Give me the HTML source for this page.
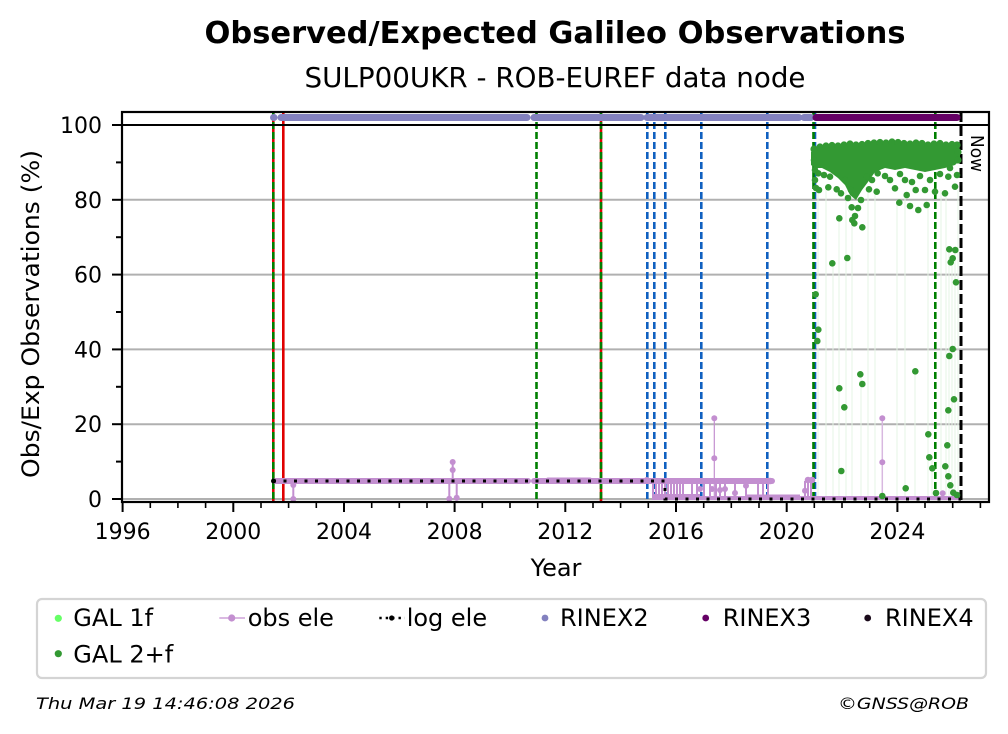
<!DOCTYPE html>
<html><head><meta charset="utf-8"><style>
html,body{margin:0;padding:0;background:#fff;}
svg{display:block;font-family:"DejaVu Sans","Liberation Sans",sans-serif;}
</style></head><body>
<svg width="1008" height="734" viewBox="0 0 1008 734" xmlns="http://www.w3.org/2000/svg">
<rect x="0" y="0" width="1008" height="734" fill="#fff"/>
<!-- titles -->
<text x="555" y="43" font-size="30.5" font-weight="bold" text-anchor="middle" textLength="701" lengthAdjust="spacingAndGlyphs">Observed/Expected Galileo Observations</text>
<text x="555" y="87" font-size="27.5" text-anchor="middle" textLength="501" lengthAdjust="spacingAndGlyphs">SULP00UKR - ROB-EUREF data node</text>

<!-- grid -->
<g stroke="#b0b0b0" stroke-width="2">
<line x1="122" y1="499" x2="989" y2="499"/>
<line x1="122" y1="424.2" x2="989" y2="424.2"/>
<line x1="122" y1="349.4" x2="989" y2="349.4"/>
<line x1="122" y1="274.6" x2="989" y2="274.6"/>
<line x1="122" y1="199.8" x2="989" y2="199.8"/>
</g>

<!-- faint green lines -->
<g stroke="#e6f4e6" stroke-width="1">
<line x1="818" y1="190" x2="818" y2="499"/><line x1="826" y1="190" x2="826" y2="499"/>
<line x1="833" y1="265" x2="833" y2="499"/><line x1="839" y1="218" x2="839" y2="499"/>
<line x1="846" y1="190" x2="846" y2="499"/><line x1="852" y1="220" x2="852" y2="499"/>
<line x1="861" y1="374" x2="861" y2="499"/><line x1="868" y1="190" x2="868" y2="499"/>
<line x1="875" y1="190" x2="875" y2="499"/><line x1="897" y1="200" x2="897" y2="499"/>
<line x1="905" y1="195" x2="905" y2="499"/><line x1="915" y1="371" x2="915" y2="499"/>
<line x1="928" y1="205" x2="928" y2="499"/><line x1="932" y1="460" x2="932" y2="499"/>
<line x1="941" y1="190" x2="941" y2="499"/><line x1="946" y1="190" x2="946" y2="499"/>
<line x1="949" y1="250" x2="949" y2="499"/><line x1="952" y1="258" x2="952" y2="499"/>
<line x1="955" y1="250" x2="955" y2="499"/><line x1="958" y1="190" x2="958" y2="499"/>
</g>

<!-- vertical event lines -->
<g stroke-width="2.6" fill="none">
<line x1="273.3" y1="112" x2="273.3" y2="502" stroke="#e00000"/>
<line x1="273.3" y1="112" x2="273.3" y2="502" stroke="#007f00" stroke-dasharray="7,3"/>
<line x1="283.3" y1="112" x2="283.3" y2="502" stroke="#e00000"/>
<line x1="536.5" y1="112" x2="536.5" y2="502" stroke="#007f00" stroke-dasharray="7,3"/>
<line x1="601" y1="112" x2="601" y2="502" stroke="#e00000"/>
<line x1="601" y1="112" x2="601" y2="502" stroke="#007f00" stroke-dasharray="7,3"/>
<line x1="647.3" y1="112" x2="647.3" y2="502" stroke="#1060c0" stroke-dasharray="7,3"/>
<line x1="654.3" y1="112" x2="654.3" y2="502" stroke="#1060c0" stroke-dasharray="7,3"/>
<line x1="665.3" y1="112" x2="665.3" y2="502" stroke="#1060c0" stroke-dasharray="7,3"/>
<line x1="701.3" y1="112" x2="701.3" y2="502" stroke="#1060c0" stroke-dasharray="7,3"/>
<line x1="767.3" y1="112" x2="767.3" y2="502" stroke="#1060c0" stroke-dasharray="7,3"/>
<line x1="815" y1="112" x2="815" y2="502" stroke="#1060c0" stroke-dasharray="7,3"/>
<line x1="813.5" y1="112" x2="813.5" y2="502" stroke="#007f00" stroke-dasharray="7,3"/>
<line x1="935.3" y1="112" x2="935.3" y2="502" stroke="#007f00" stroke-dasharray="7,3"/>
<line x1="961" y1="112" x2="961" y2="502" stroke="#000" stroke-width="3" stroke-dasharray="10,4"/>
</g>

<!-- obs ele -->
<g stroke="#c38fd0" fill="#c38fd0">
<line x1="275" y1="481" x2="528" y2="481" stroke-width="6" stroke-linecap="round"/>
<line x1="534" y1="481" x2="772" y2="481" stroke-width="6" stroke-linecap="round"/>
<line x1="548" y1="479.5" x2="590" y2="479.5" stroke-width="4" stroke-linecap="round"/>
<line x1="652" y1="498" x2="960" y2="498" stroke-width="4"/>
<line x1="652" y1="497" x2="700" y2="497" stroke-width="6"/>
<line x1="745" y1="497" x2="800" y2="497" stroke-width="5"/>
<g stroke-width="2">
<line x1="293.3" y1="481" x2="293.3" y2="499"/>
<line x1="452.7" y1="462" x2="452.7" y2="481"/>
<line x1="449.3" y1="481" x2="449.3" y2="499"/>
<line x1="456.7" y1="481" x2="456.7" y2="498"/>
<line x1="653" y1="481" x2="653" y2="497"/><line x1="656" y1="481" x2="656" y2="497"/>
<line x1="659" y1="481" x2="659" y2="497"/><line x1="662" y1="481" x2="662" y2="497"/>
<line x1="665" y1="481" x2="665" y2="497"/><line x1="668" y1="481" x2="668" y2="497"/>
<line x1="671" y1="481" x2="671" y2="497"/><line x1="674" y1="481" x2="674" y2="497"/>
<line x1="677" y1="481" x2="677" y2="497"/><line x1="680" y1="481" x2="680" y2="497"/>
<line x1="683" y1="481" x2="683" y2="497"/><line x1="692" y1="481" x2="692" y2="497"/>
<line x1="697" y1="481" x2="697" y2="497"/><line x1="704" y1="481" x2="704" y2="497"/>
<line x1="710" y1="481" x2="710" y2="497"/><line x1="716" y1="481" x2="716" y2="497"/>
<line x1="720" y1="481" x2="720" y2="497"/><line x1="725" y1="481" x2="725" y2="497"/>
<line x1="735" y1="481" x2="735" y2="497"/><line x1="746" y1="481" x2="746" y2="497"/>
<line x1="758" y1="481" x2="758" y2="497"/><line x1="763" y1="481" x2="763" y2="497"/>
<line x1="768" y1="481" x2="768" y2="497"/>
<line x1="805" y1="481" x2="805" y2="497"/><line x1="808" y1="479" x2="808" y2="497"/>
<line x1="811" y1="479" x2="811" y2="497"/>
</g>
<line x1="714.3" y1="418.3" x2="714.3" y2="497" stroke-width="1.2"/>
<line x1="882.3" y1="418.3" x2="882.3" y2="498" stroke="#d8b8e0" stroke-width="1.5"/>
<g stroke="none">
<circle cx="293.3" cy="485" r="3"/><circle cx="293.3" cy="499" r="3"/>
<circle cx="452.7" cy="462" r="3"/><circle cx="452.7" cy="470" r="3"/>
<circle cx="449.3" cy="498.7" r="3"/><circle cx="456.7" cy="497.7" r="3"/>
<circle cx="646.7" cy="480" r="3"/>
<circle cx="714.3" cy="418.3" r="3"/><circle cx="714.3" cy="458.3" r="3"/>
<circle cx="735" cy="493" r="3"/><circle cx="746" cy="485.7" r="3"/><circle cx="725" cy="489" r="3"/>
<circle cx="700" cy="489" r="3"/><circle cx="712" cy="489" r="3"/><circle cx="720" cy="490" r="3"/>
<circle cx="808" cy="480" r="3.3"/><circle cx="812" cy="480" r="3.3"/><circle cx="805" cy="490.7" r="3"/>
<circle cx="882.3" cy="418.3" r="3"/><circle cx="882.3" cy="462.3" r="3"/>
<circle cx="942.7" cy="493.3" r="3"/>
<circle cx="770" cy="481" r="3.3"/>
</g>
</g>

<!-- log ele -->
<g stroke="#000" stroke-width="3" fill="none" stroke-dasharray="3,7.5">
<polyline points="273,481 665,481 665,499 961,499"/>
</g>
<circle cx="273.5" cy="481" r="2.5" fill="#000"/>

<!-- green GAL 2+f -->
<g fill="#339933">
<polygon points="811,152 814,147 822,146 830,145 840,146 850,144 860,145 870,143 880,142 890,143 900,142 910,144 920,143 930,145 940,143 950,145 958,144 960,150 960,160 955,165 945,168 935,170 925,172 915,170 905,168 895,170 885,168 875,172 868,182 862,190 856,200 850,195 845,185 838,178 830,172 822,168 815,168 811,165"/>
<circle cx="814" cy="149" r="3.6"/><circle cx="820" cy="147" r="3.6"/><circle cx="826" cy="146" r="3.6"/>
<circle cx="832" cy="145.5" r="3.6"/><circle cx="838" cy="146" r="3.6"/><circle cx="844" cy="145" r="3.6"/>
<circle cx="850" cy="144" r="3.6"/><circle cx="856" cy="145" r="3.6"/><circle cx="862" cy="144.5" r="3.6"/>
<circle cx="868" cy="143.5" r="3.6"/><circle cx="874" cy="143" r="3.6"/><circle cx="880" cy="142.5" r="3.6"/>
<circle cx="886" cy="143" r="3.6"/><circle cx="892" cy="142" r="3.6"/><circle cx="898" cy="142.5" r="3.6"/>
<circle cx="904" cy="143.5" r="3.6"/><circle cx="910" cy="144" r="3.6"/><circle cx="916" cy="143" r="3.6"/>
<circle cx="922" cy="143.5" r="3.6"/><circle cx="928" cy="145" r="3.6"/><circle cx="934" cy="144" r="3.6"/>
<circle cx="940" cy="143.5" r="3.6"/><circle cx="946" cy="145" r="3.6"/><circle cx="952" cy="144.5" r="3.6"/>
<circle cx="957" cy="145" r="3.6"/><circle cx="958" cy="152" r="3.6"/><circle cx="958" cy="160" r="3.6"/>
<circle cx="818.3" cy="173.3" r="3.3"/><circle cx="819" cy="190" r="3.3"/>
<circle cx="828.3" cy="187.3" r="3.3"/><circle cx="830" cy="176.7" r="3.3"/>
<circle cx="836.7" cy="189.3" r="3.3"/><circle cx="839.3" cy="218.3" r="3.3"/>
<circle cx="841" cy="193.3" r="3.3"/><circle cx="851" cy="190" r="3.3"/>
<circle cx="851.7" cy="207.3" r="3.3"/><circle cx="852.3" cy="220" r="3.3"/>
<circle cx="855" cy="216" r="3.3"/><circle cx="854.3" cy="223.3" r="3.3"/>
<circle cx="862.3" cy="227.3" r="3.3"/><circle cx="861" cy="200" r="3.3"/>
<circle cx="869" cy="189.3" r="3.3"/><circle cx="866.7" cy="176.7" r="3.3"/>
<circle cx="876.7" cy="191.7" r="3.3"/><circle cx="877.7" cy="173.3" r="3.3"/>
<circle cx="895" cy="188.3" r="3.3"/><circle cx="899.3" cy="202.7" r="3.3"/>
<circle cx="906.7" cy="195" r="3.3"/><circle cx="910" cy="206" r="3.3"/>
<circle cx="918.3" cy="210" r="3.3"/><circle cx="926.7" cy="205" r="3.3"/>
<circle cx="915.7" cy="190" r="3.3"/><circle cx="925" cy="190" r="3.3"/>
<circle cx="935" cy="191.7" r="3.3"/><circle cx="945" cy="193.3" r="3.3"/>
<circle cx="955" cy="186.7" r="3.3"/><circle cx="948.3" cy="176.7" r="3.3"/>
<circle cx="905" cy="180" r="3.3"/><circle cx="890" cy="180" r="3.3"/>
<circle cx="845" cy="180" r="3.3"/><circle cx="814" cy="160" r="3.3"/>
<circle cx="815" cy="170" r="3.3"/><circle cx="815" cy="180" r="3.3"/>
<circle cx="816" cy="188" r="3.3"/><circle cx="885" cy="176" r="3.3"/>
<circle cx="930" cy="180" r="3.3"/><circle cx="957" cy="175" r="3.3"/>
<circle cx="900" cy="174" r="3.3"/><circle cx="920" cy="176" r="3.3"/><circle cx="940" cy="174" r="3.3"/>
<circle cx="824" cy="175" r="3.3"/><circle cx="848" cy="198" r="3.3"/><circle cx="858" cy="208" r="3.3"/>
<circle cx="872" cy="180" r="3.3"/><circle cx="912" cy="182" r="3.3"/><circle cx="950" cy="168" r="3.3"/>
<circle cx="832.3" cy="263.3" r="3.3"/><circle cx="847.3" cy="258" r="3.3"/>
<circle cx="815.7" cy="294.3" r="3.3"/><circle cx="818.3" cy="329.7" r="3.3"/>
<circle cx="817.3" cy="341" r="3.3"/><circle cx="860.3" cy="374.3" r="3.3"/>
<circle cx="862.3" cy="384" r="3.3"/><circle cx="839.3" cy="388.3" r="3.3"/>
<circle cx="844.3" cy="407.3" r="3.3"/><circle cx="915.3" cy="371.3" r="3.3"/>
<circle cx="841.3" cy="471" r="3.3"/><circle cx="905.7" cy="488.3" r="3.3"/>
<circle cx="928.3" cy="434.3" r="3.3"/><circle cx="929.3" cy="457.3" r="3.3"/>
<circle cx="932.3" cy="468.3" r="3.3"/><circle cx="949.3" cy="249.3" r="3.3"/>
<circle cx="955.3" cy="250" r="3.3"/><circle cx="952.7" cy="258.3" r="3.3"/>
<circle cx="950.7" cy="262.3" r="3.3"/><circle cx="956" cy="282.3" r="3.3"/>
<circle cx="952.7" cy="349" r="3.3"/><circle cx="949.3" cy="356" r="3.3"/>
<circle cx="954" cy="399.3" r="3.3"/><circle cx="948.3" cy="410.3" r="3.3"/>
<circle cx="947.3" cy="445.3" r="3.3"/><circle cx="945.3" cy="466.3" r="3.3"/>
<circle cx="948.3" cy="476.3" r="3.3"/><circle cx="950.3" cy="485.3" r="3.3"/>
<circle cx="953.3" cy="492.7" r="3.3"/><circle cx="936" cy="493" r="3.3"/>
<circle cx="957" cy="495" r="3.3"/><circle cx="882.3" cy="496" r="3.3"/>
</g>

<!-- RINEX bars -->
<g stroke-width="7" stroke-linecap="round">
<line x1="273.5" y1="117.5" x2="274" y2="117.5" stroke="#8381bf"/>
<line x1="281" y1="117.5" x2="527" y2="117.5" stroke="#8381bf"/>
<line x1="534" y1="117.5" x2="641" y2="117.5" stroke="#8381bf"/>
<line x1="647" y1="117.5" x2="799" y2="117.5" stroke="#8381bf"/>
<line x1="804" y1="117.5" x2="811" y2="117.5" stroke="#8381bf"/>
<line x1="816" y1="117.5" x2="957" y2="117.5" stroke="#650065"/>
</g>

<!-- 100 line -->
<line x1="122" y1="125" x2="989" y2="125" stroke="#000" stroke-width="2"/>

<!-- Now label -->
<text transform="translate(971,135) rotate(90)" font-size="18" textLength="37" lengthAdjust="spacingAndGlyphs">Now</text>

<!-- spines -->
<rect x="122" y="112" width="867" height="390" fill="none" stroke="#000" stroke-width="2.2"/>

<!-- y ticks -->
<g stroke="#000" stroke-width="2">
<line x1="112" y1="499" x2="122" y2="499"/><line x1="112" y1="424.2" x2="122" y2="424.2"/>
<line x1="112" y1="349.4" x2="122" y2="349.4"/><line x1="112" y1="274.6" x2="122" y2="274.6"/>
<line x1="112" y1="199.8" x2="122" y2="199.8"/><line x1="112" y1="125" x2="122" y2="125"/>
<line x1="116" y1="461.6" x2="122" y2="461.6"/><line x1="116" y1="386.8" x2="122" y2="386.8"/>
<line x1="116" y1="312" x2="122" y2="312"/><line x1="116" y1="237.2" x2="122" y2="237.2"/>
<line x1="116" y1="162.4" x2="122" y2="162.4"/>
</g>
<g font-size="22" text-anchor="end">
<text x="102" y="507">0</text>
<text x="102" y="432.2">20</text>
<text x="102" y="357.4">40</text>
<text x="102" y="282.6">60</text>
<text x="102" y="207.8">80</text>
<text x="102" y="133">100</text>
</g>

<!-- x ticks -->
<g stroke="#000" stroke-width="2">
<line x1="122.6" y1="502" x2="122.6" y2="512"/><line x1="233.3" y1="502" x2="233.3" y2="512"/>
<line x1="344" y1="502" x2="344" y2="512"/><line x1="454.6" y1="502" x2="454.6" y2="512"/>
<line x1="565.3" y1="502" x2="565.3" y2="512"/><line x1="676" y1="502" x2="676" y2="512"/>
<line x1="786.7" y1="502" x2="786.7" y2="512"/><line x1="897.4" y1="502" x2="897.4" y2="512"/>
</g>
<g stroke="#000" stroke-width="1.6">
<line x1="150.3" y1="502" x2="150.3" y2="508"/><line x1="177.9" y1="502" x2="177.9" y2="508"/>
<line x1="205.6" y1="502" x2="205.6" y2="508"/><line x1="261" y1="502" x2="261" y2="508"/>
<line x1="288.6" y1="502" x2="288.6" y2="508"/><line x1="316.3" y1="502" x2="316.3" y2="508"/>
<line x1="371.7" y1="502" x2="371.7" y2="508"/><line x1="399.3" y1="502" x2="399.3" y2="508"/>
<line x1="427" y1="502" x2="427" y2="508"/><line x1="482.3" y1="502" x2="482.3" y2="508"/>
<line x1="510" y1="502" x2="510" y2="508"/><line x1="537.7" y1="502" x2="537.7" y2="508"/>
<line x1="593" y1="502" x2="593" y2="508"/><line x1="620.6" y1="502" x2="620.6" y2="508"/>
<line x1="648.3" y1="502" x2="648.3" y2="508"/><line x1="703.7" y1="502" x2="703.7" y2="508"/>
<line x1="731.3" y1="502" x2="731.3" y2="508"/><line x1="759" y1="502" x2="759" y2="508"/>
<line x1="814.3" y1="502" x2="814.3" y2="508"/><line x1="842" y1="502" x2="842" y2="508"/>
<line x1="869.7" y1="502" x2="869.7" y2="508"/><line x1="925" y1="502" x2="925" y2="508"/>
<line x1="952.7" y1="502" x2="952.7" y2="508"/><line x1="980.4" y1="502" x2="980.4" y2="508"/>
</g>
<g font-size="22" text-anchor="middle">
<text x="122.6" y="539">1996</text><text x="233.3" y="539">2000</text>
<text x="344" y="539">2004</text><text x="454.6" y="539">2008</text>
<text x="565.3" y="539">2012</text><text x="676" y="539">2016</text>
<text x="786.7" y="539">2020</text><text x="897.4" y="539">2024</text>
</g>

<!-- axis labels -->
<text x="556" y="576" font-size="24" text-anchor="middle">Year</text>
<text transform="translate(39,314) rotate(-90)" font-size="24" text-anchor="middle" textLength="328" lengthAdjust="spacingAndGlyphs">Obs/Exp Observations (%)</text>

<!-- legend -->
<rect x="37" y="599" width="949" height="79" rx="5" ry="5" fill="#fff" stroke="#d4d4d4" stroke-width="2.2"/>
<g font-size="24">
<circle cx="58.3" cy="618.3" r="3.6" fill="#66ff66"/>
<text x="73.3" y="626">GAL 1f</text>
<circle cx="58.3" cy="653.7" r="3.6" fill="#339933"/>
<text x="73.3" y="662.5">GAL 2+f</text>
<line x1="219.3" y1="618" x2="245" y2="618" stroke="#c38fd0" stroke-width="1.2"/>
<circle cx="231.7" cy="618" r="3.6" fill="#c38fd0"/>
<text x="247.7" y="626">obs ele</text>
<line x1="379.3" y1="618" x2="405" y2="618" stroke="#000" stroke-width="2.4" stroke-dasharray="2.4,4"/>
<circle cx="391.7" cy="618" r="2.6" fill="#000"/>
<text x="406.7" y="626">log ele</text>
<circle cx="545" cy="618" r="3.4" fill="#8381bf"/>
<text x="560" y="626">RINEX2</text>
<circle cx="705.7" cy="618" r="3.4" fill="#650065"/>
<text x="722.7" y="626">RINEX3</text>
<circle cx="867.7" cy="618" r="3.4" fill="#1a0a1a"/>
<text x="885" y="626">RINEX4</text>
</g>

<!-- footer -->
<text x="36" y="709" font-size="16" font-style="italic" textLength="259" lengthAdjust="spacingAndGlyphs">Thu Mar 19 14:46:08 2026</text>
<text x="969" y="709" font-size="16" font-style="italic" text-anchor="end" textLength="131" lengthAdjust="spacingAndGlyphs">©GNSS@ROB</text>
</svg>
</body></html>
